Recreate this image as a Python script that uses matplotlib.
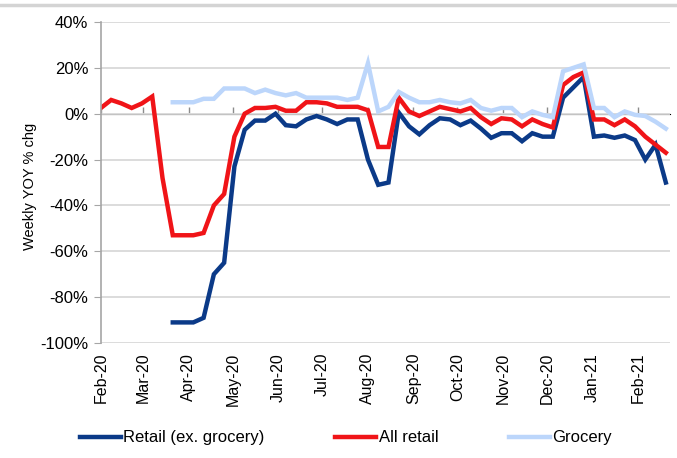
import matplotlib
matplotlib.use("Agg")
import matplotlib.pyplot as plt
import matplotlib.dates as md
import matplotlib.ticker as mt
from matplotlib.lines import Line2D
import numpy as np
import pandas as pd

plt.rcParams['font.family'] = ['Liberation Sans', 'DejaVu Sans']

# weekly YoY % change, first week starting Feb-2020
weeks = pd.date_range('2020-02-01', periods=56, freq='7D')
nan = np.nan

retail_ex_grocery = [nan, nan, nan, nan, nan, nan, nan,
                     -91, -91, -91, -89, -70, -65, -23, -7, -3, -3, 0, -5, -5.5,
                     -2.5, -1, -2.5, -4.5, -2.5, -2.5, -20, -31, -30, 0.5,
                     -5.5, -9, -5, -2, -2.5, -5, -3, -6.5, -10.5, -8.5,
                     -8.5, -12, -8.5, -10, -10, 7, 11.5, 16, -10, -9.5,
                     -10.5, -9.5, -11.5, -20, -13.5, -30]
all_retail = [2.5, 6, 4.5, 2.5, 4.5, 7.5, -28,
              -53, -53, -53, -52, -40, -35, -10, 0, 2.5, 2.5, 3, 1.3, 1.3,
              5, 5, 4.5, 3, 3, 3, 1.5, -14.5, -14.5, 7,
              1, -1, 1, 3, 2, 1, 2.5, -1.5, -4.5, -2,
              -2.5, -5.5, -2.5, -4.5, -6, 12.5, 16, 18, -2.5, -2.5,
              -5, -2.5, -5.5, -10, -13.5, -17]
grocery = [nan, nan, nan, nan, nan, nan, nan,
           5, 5, 5, 6.5, 6.5, 11, 11, 11, 9, 10.5, 9, 8, 9,
           7, 7, 7, 7, 6, 7, 22, 1, 3, 9.5,
           7, 5, 5, 6, 5, 4.5, 6, 2.5, 1.3, 2.5,
           2.5, -1.5, 1, -0.5, -1.5, 18.5, 20, 21.5, 2.5, 2.5,
           -1.5, 1, -0.5, -1, -3.5, -6.5]

series_names = ['Retail (ex. grocery)', 'All retail', 'Grocery']
series_colors = ['#0b3a88', '#f01418', '#bcd6fb']

fig = plt.figure(figsize=(6.77, 4.58), dpi=100)
ax = fig.add_axes([0.149, 0.251, 0.841, 0.701])

for vals, name, col in zip([retail_ex_grocery, all_retail, grocery], series_names, series_colors):
    ax.plot(weeks, vals, color=col, lw=3.2, label=name, solid_joinstyle='miter')

ymin, ymax = -100, 40
ax.set_ylim(ymin, ymax)
ax.set_xlim(pd.Timestamp('2020-02-01'), pd.Timestamp('2021-02-23'))
ax.yaxis.set_major_locator(mt.MultipleLocator(20))
ax.yaxis.set_major_formatter(mt.FuncFormatter(lambda v, p: '%d%%' % v))
ax.grid(axis='y', color='#d9d9d9', lw=1.3)
ax.set_axisbelow(True)

for s in ['top', 'right', 'bottom']:
    ax.spines[s].set_visible(False)
ax.spines['left'].set_color('#a6a6a6')
ax.spines['left'].set_linewidth(1.2)
ax.tick_params(axis='y', direction='out', length=5, color='#a6a6a6',
               labelsize=12, pad=4)

ax.xaxis.set_major_locator(md.MonthLocator())
ax.xaxis.set_major_formatter(md.DateFormatter('%b-%y'))
ax.tick_params(axis='x', length=0, labelsize=11.5, pad=7, labelrotation=90)

# horizontal axis crossing at 0% with month tick marks
zero_ax = ax.secondary_xaxis((0 - ymin) / (ymax - ymin))
zero_ax.xaxis.set_major_locator(md.MonthLocator())
zero_ax.xaxis.set_major_formatter(mt.NullFormatter())
zero_ax.spines['bottom'].set_color('#8c8c8c')
zero_ax.spines['bottom'].set_linewidth(1.2)
zero_ax.tick_params(axis='x', direction='out', length=5, color='#8c8c8c', width=1)

ax.set_ylabel('Weekly YOY % chg', fontsize=10.5, labelpad=2, y=0.489)

fig.legend(loc='center', bbox_to_anchor=(0.511, 0.044), ncol=3, frameon=False,
           fontsize=12, handlelength=2.45, handletextpad=0.15, columnspacing=4.25)

fig.add_artist(Line2D([0, 1], [0.988, 0.988], transform=fig.transFigure,
                      color='#d4d4d4', lw=2.5))

fig.savefig('out.png', dpi=100)
